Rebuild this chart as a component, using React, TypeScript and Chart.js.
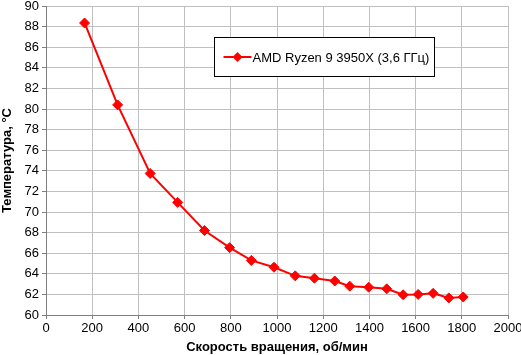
import React, { useEffect, useRef } from "react";
import { Chart, registerables } from "chart.js";

Chart.register(...registerables);

const seriesLabel = "AMD Ryzen 9 3950X (3,6 ГГц)";
const rpm = [167, 310, 451, 570, 686, 795, 889, 987, 1079, 1162, 1250, 1315, 1397, 1475, 1546, 1611, 1676, 1744, 1806];
const temps = [88.35, 80.4, 73.74, 70.93, 68.2, 66.54, 65.3, 64.64, 63.8, 63.57, 63.3, 62.8, 62.7, 62.54, 61.96, 62.0, 62.1, 61.66, 61.75];
const xTitle = "Скорость вращения, об/мин";
const yTitle = "Температура, °C";

const FONT = "'Liberation Sans', Arial, sans-serif";

const legendPlugin = {
  id: "boxLegend",
  afterDraw(chart: any) {
    const ctx = chart.ctx;
    const x = 214.5, y = 37.5, w = 220, h = 39;
    ctx.save();
    ctx.fillStyle = "#ffffff";
    ctx.fillRect(x, y, w, h);
    ctx.strokeStyle = "#000000";
    ctx.lineWidth = 1;
    ctx.strokeRect(x, y, w, h);
    const cy = y + h / 2;
    ctx.strokeStyle = "#ff0000";
    ctx.lineWidth = 2;
    ctx.beginPath();
    ctx.moveTo(x + 9, cy);
    ctx.lineTo(x + 37, cy);
    ctx.stroke();
    ctx.fillStyle = "#ff0000";
    ctx.beginPath();
    const mx = x + 23;
    ctx.moveTo(mx, cy - 5);
    ctx.lineTo(mx + 5, cy);
    ctx.lineTo(mx, cy + 5);
    ctx.lineTo(mx - 5, cy);
    ctx.closePath();
    ctx.fill();
    ctx.fillStyle = "#000000";
    ctx.font = "13px " + FONT;
    ctx.textBaseline = "middle";
    ctx.textAlign = "left";
    ctx.fillText(chart.data.datasets[0].label, x + 38, cy + 1);
    ctx.restore();
  },
};

export default function App() {
  const ref = useRef<HTMLCanvasElement>(null);
  useEffect(() => {
    document.body.style.margin = "0";
    const chart = new Chart(ref.current!, {
      type: "scatter",
      data: {
        datasets: [
          {
            label: seriesLabel,
            data: rpm.map((x, i) => ({ x, y: temps[i] })),
            showLine: true,
            borderColor: "#ff0000",
            backgroundColor: "#ff0000",
            borderWidth: 2,
            pointStyle: "rectRot",
            pointRadius: 5,
            pointBorderWidth: 1,
          },
        ],
      },
      options: {
        animation: false,
        responsive: false,
        layout: { padding: { top: 5, right: 13, left: 0, bottom: 0 } },
        plugins: { legend: { display: false }, tooltip: { enabled: false } },
        scales: {
          x: {
            type: "linear",
            min: 0,
            max: 2000,
            ticks: { stepSize: 200, color: "#000", font: { family: FONT, size: 13 }, padding: 2, maxRotation: 0, callback: (v: any) => String(v) },
            grid: { color: "#c0c0c0", tickLength: 4, tickColor: "#808080" },
            border: { color: "#808080" },
            title: { display: true, text: xTitle, color: "#000", font: { family: FONT, size: 13, weight: "bold" }, padding: { top: 0, bottom: 0 } },
            afterFit(scale: any) { scale.height = 40; scale.paddingRight = 0; scale.paddingLeft = 0; },
          },
          y: {
            min: 60,
            max: 90,
            ticks: { stepSize: 2, color: "#000", font: { family: FONT, size: 13 }, padding: 3, callback: (v: any) => String(v) },
            grid: { color: "#c0c0c0", tickLength: 4, tickColor: "#808080" },
            border: { color: "#808080" },
            title: { display: true, text: yTitle, color: "#000", font: { family: FONT, size: 13, weight: "bold" }, padding: { top: 0, bottom: 0 } },
            afterFit(scale: any) { scale.width = 46; scale.paddingTop = 0; scale.paddingBottom = 0; },
          },
        },
      },
      plugins: [legendPlugin],
    } as any);
    return () => chart.destroy();
  }, []);
  return <canvas ref={ref} width={521} height={355} style={{ display: "block" }} />;
}
